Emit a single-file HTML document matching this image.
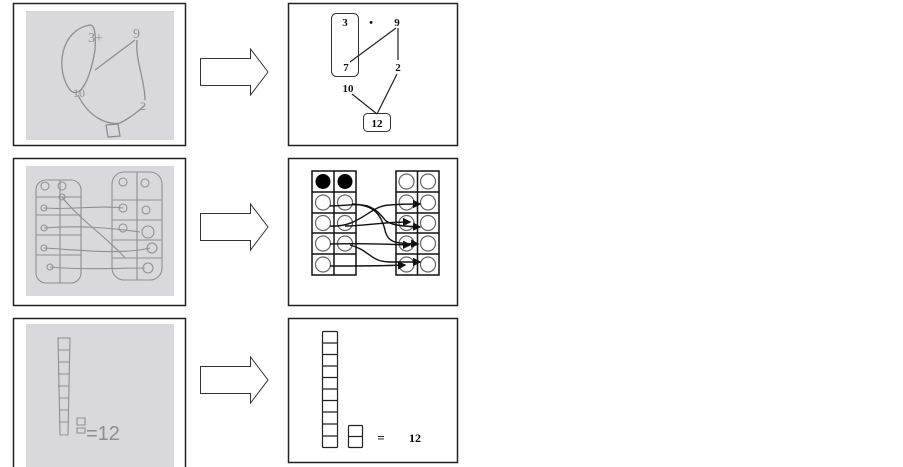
<!DOCTYPE html>
<html><head><style>
html,body{margin:0;padding:0;background:#fff;width:903px;height:467px;overflow:hidden}
</style></head><body>
<svg width="903" height="467" xmlns="http://www.w3.org/2000/svg" font-family="Liberation Serif, serif">
<defs>
<marker id="ah" markerWidth="6" markerHeight="6" refX="5" refY="3" orient="auto"><path d="M0,0 L6,3 L0,6z" fill="#111"/></marker>
<g id="arrow"><path d="M200.5,-13.5 H250.5 V-23 L268,0 L250.5,23 V13.5 H200.5 Z" fill="#fff" stroke="#333" stroke-width="1"/></g>
</defs>
<!-- Row 1 -->
<rect x="13.5" y="3.5" width="172" height="142" fill="#fff" stroke="#222" stroke-width="1.5"/>
<rect x="26" y="11" width="148" height="129" fill="#d9d9dc"/>
<g fill="none" stroke="#8e8e92" stroke-width="1.3">
<path d="M90,25 C60,30 55,70 70,90 C80,100 90,80 95,50 C96,35 95,25 90,25"/>
<text x="88" y="42" font-size="14" fill="#8e8e92" stroke="none">3+</text>
<text x="133" y="38" font-size="14" fill="#8e8e92" stroke="none">9</text>
<path d="M135,40 L95,70 M137,40 C135,60 145,80 145,100 M78,95 C90,120 110,125 120,123 C130,118 140,110 145,105"/>
<text x="73" y="97" font-size="12" fill="#8e8e92" stroke="none">10</text>
<text x="140" y="110" font-size="12" fill="#8e8e92" stroke="none">2</text>
<path d="M106,125 L118,124 L120,136 L108,137Z"/>
</g>
<rect x="288.5" y="3.5" width="169" height="142" fill="#fff" stroke="#222" stroke-width="1.5"/>
<use href="#arrow" transform="translate(0,72)"/>
<rect x="331.5" y="13.5" width="27" height="63" rx="5" fill="none" stroke="#333"/>
<g font-size="11" font-weight="bold" text-anchor="middle" fill="#111">
<text x="345" y="26">3</text><text x="371" y="26">•</text><text x="397" y="26">9</text>
<text x="346" y="71">7</text><text x="398" y="71">2</text><text x="348" y="92">10</text>
</g>
<rect x="363.5" y="113.5" width="27" height="18" rx="4" fill="none" stroke="#333"/>
<text x="377" y="127" font-size="11" font-weight="bold" text-anchor="middle">12</text>
<g stroke="#222" stroke-width="1.2"><path d="M396,28 L350,62 M398,28 L398,60 M397,74 L377,114 M352,94 L377,114"/></g>

<!-- Row 2 -->
<rect x="13.5" y="158.5" width="172" height="147" fill="#fff" stroke="#222" stroke-width="1.5"/>
<rect x="26" y="166" width="148" height="130" fill="#d9d9dc"/>
<g fill="none" stroke="#909094" stroke-width="1.1">
<rect x="36" y="180" width="45" height="103" rx="10"/>
<rect x="112" y="172" width="50" height="108" rx="12"/>
<path d="M36,197 H81 M36,215 H81 M36,235 H81 M36,255 H81 M60,180 V283 M112,200 H162 M112,220 H162 M112,240 H162 M112,258 H162 M137,172 V280"/>
<circle cx="45" cy="186" r="4"/><circle cx="62" cy="186" r="4"/><circle cx="44" cy="208" r="3"/><circle cx="62" cy="197" r="3"/>
<circle cx="44" cy="228" r="3"/><circle cx="44" cy="248" r="3"/><circle cx="50" cy="267" r="3"/>
<circle cx="123" cy="182" r="4"/><circle cx="145" cy="183" r="4"/><circle cx="123" cy="208" r="4"/><circle cx="146" cy="210" r="4"/>
<circle cx="123" cy="228" r="4"/><circle cx="148" cy="232" r="6"/><circle cx="152" cy="248" r="5"/><circle cx="148" cy="268" r="5"/>
<path d="M62,197 C80,220 110,240 125,258 M44,208 C70,210 100,205 123,208 M44,228 C80,225 110,228 140,232 M44,248 C80,250 120,255 150,248 M50,267 C80,270 120,268 145,268"/>
</g>
<rect x="288.5" y="158.5" width="169" height="147" fill="#fff" stroke="#222" stroke-width="1.5"/>
<use href="#arrow" transform="translate(0,227)"/>
<g stroke="#111" stroke-width="1.5" fill="none">
<rect x="312" y="171" width="44" height="104"/><path d="M334,171 V275 M312,192 H356 M312,213 H356 M312,233 H356 M312,254 H356"/>
<rect x="396" y="171" width="43" height="104"/><path d="M417.5,171 V275 M396,192 H439 M396,213 H439 M396,233 H439 M396,254 H439"/>
</g>
<g fill="#000"><circle cx="323" cy="181.5" r="7.5"/><circle cx="345" cy="181.5" r="7.5"/></g>
<g fill="#fff" stroke="#666" stroke-width="1.2">
<circle cx="323" cy="202.5" r="7.5"/><circle cx="345" cy="202.5" r="7.5"/>
<circle cx="323" cy="223" r="7.5"/><circle cx="345" cy="223" r="7.5"/>
<circle cx="323" cy="243.5" r="7.5"/><circle cx="345" cy="243.5" r="7.5"/>
<circle cx="323" cy="264.5" r="7.5"/>
<circle cx="406.5" cy="181.5" r="7.5"/><circle cx="428" cy="181.5" r="7.5"/>
<circle cx="406.5" cy="202.5" r="7.5"/><circle cx="428" cy="202.5" r="7.5"/>
<circle cx="406.5" cy="223" r="7.5"/><circle cx="428" cy="223" r="7.5"/>
<circle cx="406.5" cy="243.5" r="7.5"/><circle cx="428" cy="243.5" r="7.5"/>
<circle cx="406.5" cy="264.5" r="7.5"/><circle cx="428" cy="264.5" r="7.5"/>
</g>
<g fill="none" stroke="#111" stroke-width="1.4" marker-end="url(#ah)">
<path d="M330,206 C360,205 370,200 385,220 C390,225 400,226 420,227"/>
<path d="M352,204 C370,205 380,210 385,230 C388,245 400,243 418,244"/>
<path d="M330,226 C360,228 370,205 390,205 C400,204 410,204 420,204"/>
<path d="M345,226 C365,226 380,222 410,222"/>
<path d="M330,244 C360,243 380,244 410,245"/>
<path d="M350,245 C370,250 370,262 390,262 C400,262 410,262 420,262"/>
<path d="M330,266 C360,266 380,266 405,265"/>
</g>

<!-- Row 3 -->
<rect x="13.5" y="318.5" width="172" height="152" fill="#fff" stroke="#222" stroke-width="1.5"/>
<rect x="26" y="324" width="148" height="143" fill="#d9d9dc"/>
<g fill="none" stroke="#909094" stroke-width="1.1">
<path d="M58,338 H70 L68,435 H60 Z M58,350 H69 M58,362 H69 M58,374 H69 M58,386 H69 M59,398 H69 M59,410 H69 M59,422 H69"/>
<path d="M77,418 H85 V425 H77Z M77,428 H85 V433 H77Z"/>
</g>
<text x="86" y="440" font-size="20" fill="#8e8e92" font-family="Liberation Sans, sans-serif">=12</text>
<rect x="288.5" y="318.5" width="169" height="144" fill="#fff" stroke="#222" stroke-width="1.5"/>
<use href="#arrow" transform="translate(0,380)"/>
<g fill="none" stroke="#222" stroke-width="1.2">
<rect x="322.5" y="331.5" width="15" height="116" rx="1"/>
<path d="M322.5,343 H337.5 M322.5,354.5 H337.5 M322.5,366 H337.5 M322.5,377.5 H337.5 M322.5,389 H337.5 M322.5,400.5 H337.5 M322.5,412 H337.5 M322.5,424 H337.5 M322.5,436 H337.5"/>
<rect x="348.5" y="425.5" width="14" height="22" rx="1"/><path d="M348.5,436.5 H362.5"/>
</g>
<text x="381" y="442" font-size="13" font-weight="bold" text-anchor="middle">=</text>
<text x="415" y="442" font-size="12" font-weight="bold" text-anchor="middle">12</text>
</svg>
</body></html>
